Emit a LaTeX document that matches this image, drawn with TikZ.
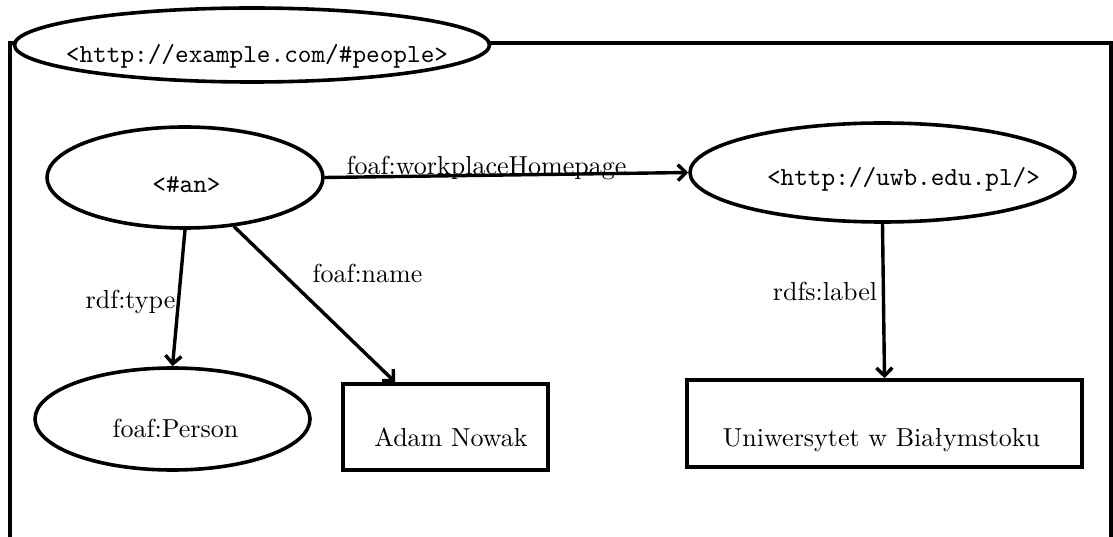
\documentclass[tikz,border=0pt]{standalone}
\usepackage{graphicx}
\usetikzlibrary{shapes.geometric,arrows.meta}
\newcommand\bigtxt[1]{\scalebox{2.6}{#1}}
\begin{document}
\begin{tikzpicture}[x=1pt,y=-1pt,
  frameline/.style={line width=3.6pt},
  ell/.style={ellipse, draw, line width=3.6pt, inner sep=0pt},
  box/.style={rectangle, draw, line width=3.6pt, inner sep=0pt},
  txt/.style={inner sep=0pt, anchor=base},
  edgearrow/.style={line width=3.4pt, -{Straight Barb[length=8pt,width=16pt]}}]
\useasboundingbox (0,0) rectangle (1113,537);
% named graph frame
\draw[frameline] (10,600) -- (10,43) -- (1111,43) -- (1111,600);
\node[ell, fill=white, minimum width=475pt, minimum height=74pt] (graph) at (252,45) {};
\node[txt] (graphlabel) at (257,63) {\bigtxt{\texttt{<http://example.com/\#people>}}};
% nodes
\node[ell, minimum width=276pt, minimum height=101pt] (an) at (185,177.5) {};
\node[txt] (antext) at (186.5,193) {\bigtxt{\texttt{<\#an>}}};
\node[ell, minimum width=385pt, minimum height=99pt] (uwb) at (882.5,172.5) {};
\node[txt] (uwbtext) at (903.5,186) {\bigtxt{\texttt{<http://uwb.edu.pl/>}}};
\node[ell, minimum width=275pt, minimum height=102pt] (person) at (172.5,419) {};
\node[txt] (persontext) at (175.5,437) {\bigtxt{foaf:Person}};
\node[box, minimum width=205pt, minimum height=86pt] (adam) at (445.5,427) {};
\node[txt] (adamtext) at (451,446) {\bigtxt{Adam Nowak}};
\node[box, minimum width=395pt, minimum height=87pt] (uniw) at (884.5,423.5) {};
\node[txt] (uniwtext) at (881.5,446) {\bigtxt{Uniwersytet w Białymstoku}};
% edges
\draw[edgearrow] (an.east) -- (uwb.west);
\draw[edgearrow] (an.south) -- (person.north);
\draw[edgearrow] (an.-45) -- ([xshift=54pt]adam.north west);
\draw[edgearrow] (uwb.south) -- (uniw.north);
% edge labels
\node[txt] (lwork) at (486.5,175) {\bigtxt{foaf:workplaceHomepage}};
\node[txt] (ltype) at (130.5,308) {\bigtxt{rdf:type}};
\node[txt] (lname) at (367.5,283) {\bigtxt{foaf:name}};
\node[txt] (llabel) at (825,300) {\bigtxt{rdfs:label}};
\end{tikzpicture}
\end{document}
